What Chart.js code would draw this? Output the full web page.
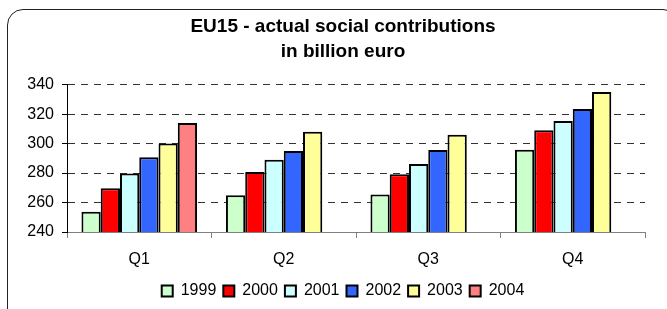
<!DOCTYPE html>
<html>
<head>
<meta charset="utf-8">
<script src="https://cdn.jsdelivr.net/npm/chart.js@4"></script>
<style>
  html, body { margin: 0; padding: 0; background: #fff; overflow: hidden; }
  body { width: 667px; height: 309px; position: relative; }
  #frame {
    position: absolute; left: 7px; top: 9px; width: 670px; height: 330px;
    border: 1.5px solid #222; border-radius: 16px;
  }
  #wrap { position: absolute; left: 0; top: 0; width: 686px; height: 309px; }
</style>
</head>
<body>
<div id="frame"></div>
<div id="wrap"><canvas id="c"></canvas></div>
<script>
// quarters and the yearly series (billion euro)
var quarters = ['Q1', 'Q2', 'Q3', 'Q4'];
var years = ['1999', '2000', '2001', '2002', '2003', '2004'];
var v1999 = [253.8, 265.0, 265.4, 295.8];
var v2000 = [269.7, 280.8, 279.2, 309.0];
var v2001 = [279.7, 289.0, 286.2, 315.3];
var v2002 = [290.8, 295.0, 295.6, 323.5];
var v2003 = [300.0, 308.0, 306.0, 335.0];
var v2004 = [314.0, null, null, null];
var yTicks = [240, 260, 280, 300, 320, 340];

var colors = ['#ccffcc', '#ff0000', '#ccffff', '#3366ff', '#ffff99', '#ff8080'];
var series = [v1999, v2000, v2001, v2002, v2003, v2004];

var datasets = years.map(function (y, i) {
  return {
    label: y,
    data: series[i],
    backgroundColor: colors[i],
    borderColor: '#000',
    borderWidth: 2,
    borderSkipped: false
  };
});

Chart.defaults.font.family = '"Liberation Sans", Arial, sans-serif';
Chart.defaults.color = '#000';

new Chart(document.getElementById('c'), {
  type: 'bar',
  data: { labels: quarters, datasets: datasets },
  options: {
    responsive: true,
    maintainAspectRatio: false,
    animation: false,
    datasets: { bar: { categoryPercentage: 0.8, barPercentage: 1.0 } },
    layout: { padding: { left: 0, right: 0, top: 0, bottom: 0 } },
    plugins: {
      title: {
        display: true,
        text: ['EU15 - actual social contributions', 'in billion euro'],
        font: { size: 19, weight: 'bold', lineHeight: 1.28 },
        padding: { top: 15, bottom: 21 }
      },
      legend: {
        position: 'bottom',
        labels: {
          boxWidth: 11,
          boxHeight: 11,
          padding: 7,
          font: { size: 16 }
        }
      },
      tooltip: { enabled: false }
    },
    scales: {
      x: {
        offset: true,
        afterFit: function (s) { s.height = 44; },
        grid: { display: true, offset: true, drawOnChartArea: false, color: '#808080', tickLength: 6 },
        border: { color: '#808080', width: 1 },
        ticks: { font: { size: 16 }, padding: 12 }
      },
      y: {
        min: 240,
        max: 340,
        afterBuildTicks: function (s) { s.ticks = yTicks.map(function (v) { return { value: v }; }); },
        afterFit: function (s) { s.width = 67; },
        grid: { color: '#333', tickLength: 5, tickColor: '#000' },
        border: { color: '#000', width: 1, dash: [7, 6] },
        ticks: { font: { size: 16 }, padding: 8 }
      },
      // empty right-hand box: keeps the plot's right edge at 645 while the title stays centred on the frame
      yr: {
        type: 'linear',
        position: 'right',
        afterFit: function (s) { s.width = 41; },
        grid: { display: false },
        border: { display: false },
        ticks: { display: false }
      }
    }
  }
});
</script>
</body>
</html>
